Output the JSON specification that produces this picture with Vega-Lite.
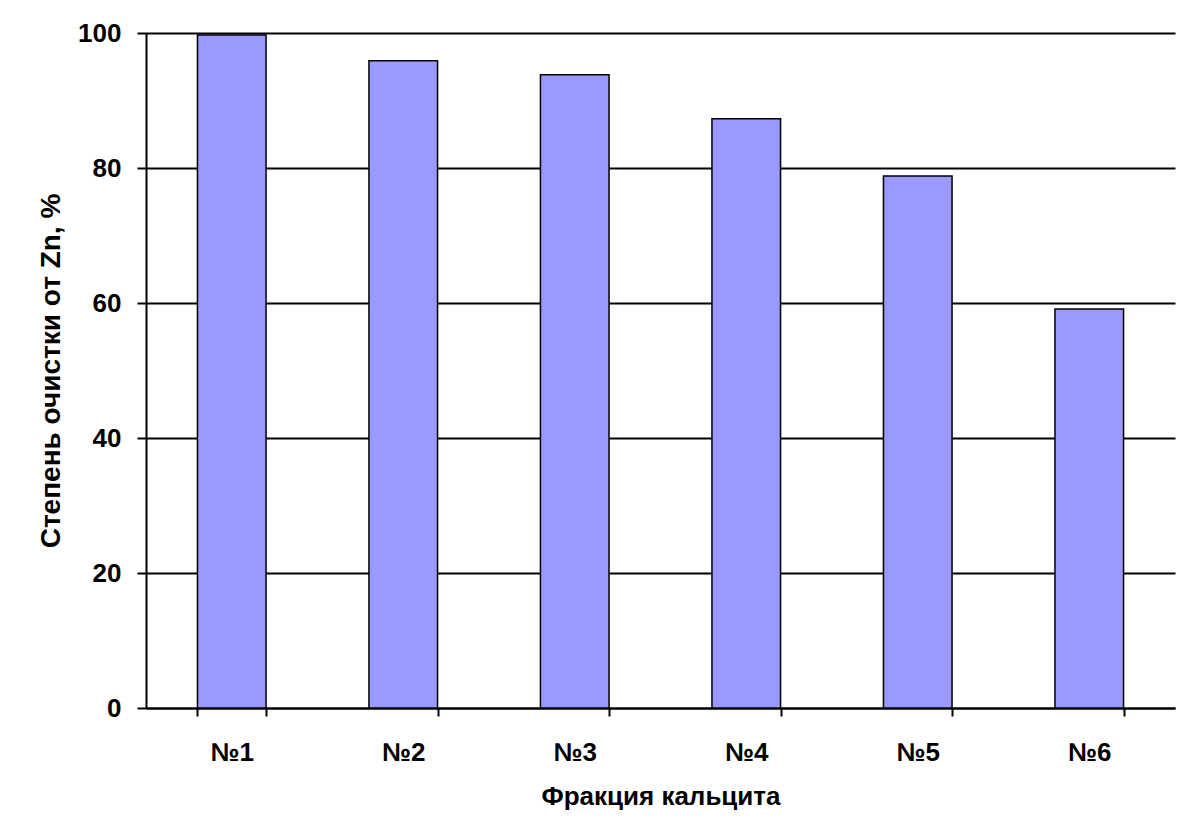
{
  "$schema": "https://vega.github.io/schema/vega-lite/v6.json",
  "width": 1029,
  "height": 675,
  "autosize": {"type": "none"},
  "padding": {"left": 146, "top": 33, "right": 29, "bottom": 131},
  "background": "white",
  "config": {"view": {"stroke": null}, "font": "Liberation Sans"},
  "data": {"values": [
    {"fraction": "№1", "value": 99.7},
    {"fraction": "№2", "value": 95.9},
    {"fraction": "№3", "value": 93.8},
    {"fraction": "№4", "value": 87.3},
    {"fraction": "№5", "value": 78.8},
    {"fraction": "№6", "value": 59.1}
  ]},
  "mark": {"type": "bar", "fill": "#9999FF", "stroke": "#000000", "strokeWidth": 1.5},
  "encoding": {
    "x": {
      "field": "fraction", "type": "nominal", "sort": null,
      "scale": {"paddingInner": 0.6, "paddingOuter": 0.3},
      "axis": {
        "title": "Фракция кальцита", "titleFont": "Liberation Sans", "titleFontSize": 26, "titleFontWeight": "bold", "titleColor": "#000", "titlePadding": 18,
        "labelAngle": 0, "labelFont": "Liberation Sans", "labelFontSize": 26, "labelFontWeight": "bold", "labelColor": "#000", "labelPadding": 23,
        "tickBand": "extent", "tickColor": "#000", "tickSize": 8, "tickWidth": 2,
        "domainColor": "#000", "domainWidth": 2
      }
    },
    "y": {
      "field": "value", "type": "quantitative",
      "scale": {"domain": [0, 100], "nice": false},
      "axis": {
        "title": "Степень очистки от Zn, %", "titleFont": "Liberation Sans", "titleFontSize": 28, "titleFontWeight": "bold", "titleColor": "#000", "titlePadding": 12,
        "values": [0, 20, 40, 60, 80, 100],
        "labelFont": "Liberation Sans", "labelFontSize": 26, "labelFontWeight": "bold", "labelColor": "#000", "labelPadding": 16,
        "tickColor": "#000", "tickSize": 9, "tickWidth": 2,
        "domainColor": "#000", "domainWidth": 2,
        "grid": true, "gridColor": "#000", "gridWidth": 2
      }
    }
  }
}
